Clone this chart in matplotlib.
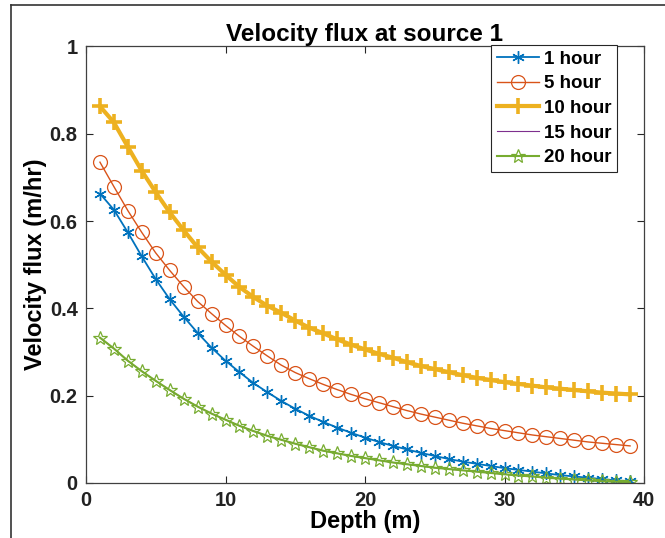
import numpy as np
import matplotlib
matplotlib.use("Agg")
import matplotlib.pyplot as plt
from matplotlib.lines import Line2D

plt.rcParams['font.family'] = ['Liberation Sans', 'DejaVu Sans']
plt.rcParams['font.weight'] = 'bold'

# depth points (m)
depth = list(range(1, 40))

# velocity flux (m/hr)
flux_1h = [0.663, 0.626, 0.574, 0.519, 0.467, 0.421, 0.381, 0.344, 0.310, 0.280,
           0.254, 0.229, 0.208, 0.188, 0.170, 0.154, 0.140, 0.127, 0.115, 0.104,
           0.094, 0.085, 0.077, 0.069, 0.062, 0.055, 0.049, 0.044, 0.039, 0.034,
           0.030, 0.026, 0.022, 0.018, 0.015, 0.012, 0.009, 0.006, 0.004]
flux_5h = [0.735, 0.679, 0.624, 0.574, 0.527, 0.487, 0.450, 0.416, 0.388, 0.361,
           0.336, 0.313, 0.291, 0.270, 0.253, 0.239, 0.226, 0.214, 0.203, 0.193,
           0.184, 0.175, 0.166, 0.158, 0.151, 0.144, 0.137, 0.131, 0.125, 0.120,
           0.115, 0.110, 0.106, 0.102, 0.098, 0.094, 0.091, 0.088, 0.085]
flux_10h = [0.863, 0.826, 0.770, 0.715, 0.666, 0.620, 0.579, 0.540, 0.507, 0.477,
            0.449, 0.426, 0.406, 0.390, 0.372, 0.356, 0.343, 0.329, 0.317, 0.306,
            0.296, 0.287, 0.277, 0.268, 0.261, 0.254, 0.247, 0.241, 0.236, 0.231,
            0.227, 0.223, 0.219, 0.216, 0.213, 0.210, 0.207, 0.205, 0.203]
flux_15h = [0.333, 0.308, 0.280, 0.256, 0.234, 0.213, 0.193, 0.175, 0.159, 0.145,
            0.131, 0.119, 0.108, 0.099, 0.090, 0.082, 0.074, 0.068, 0.062, 0.057,
            0.052, 0.047, 0.043, 0.039, 0.035, 0.032, 0.029, 0.026, 0.023, 0.020,
            0.017, 0.015, 0.012, 0.010, 0.008, 0.006, 0.004, 0.003, 0.002]
flux_20h = [0.333, 0.308, 0.280, 0.256, 0.234, 0.213, 0.193, 0.175, 0.159, 0.145,
            0.131, 0.119, 0.108, 0.099, 0.090, 0.082, 0.074, 0.068, 0.062, 0.057,
            0.052, 0.047, 0.043, 0.039, 0.035, 0.032, 0.029, 0.026, 0.023, 0.020,
            0.017, 0.015, 0.012, 0.010, 0.008, 0.006, 0.004, 0.003, 0.002]

labels = ['1 hour', '5 hour', '10 hour', '15 hour', '20 hour']
x_ticks = [0, 10, 20, 30, 40]
y_ticks = [0, 0.2, 0.4, 0.6, 0.8, 1]
y_tick_labels = ['0', '0.2', '0.4', '0.6', '0.8', '1']

W, H = 665, 538
fig = plt.figure(figsize=(W / 100, H / 100), dpi=100)
ax = fig.add_axes([86 / W, 55 / H, 558 / W, 436.5 / H])

# matlab default colours
ax.plot(depth, flux_1h, color='#0072BD', lw=1.3, marker=(6, 2, 0), ms=9, mew=1.0,
        label=labels[0])
ax.plot(depth, flux_5h, color='#D95319', lw=1.0, marker='o', ms=10, mfc='none',
        mew=0.9, label=labels[1])
ax.plot(depth, flux_10h, color='#EDB120', lw=3.0, marker='+', ms=12, mew=2.6,
        label=labels[2])
ax.plot(depth, flux_15h, color='#7E2F8E', lw=0.8, label=labels[3])
ax.plot(depth, flux_20h, color='#77AC30', lw=1.5, marker='*', ms=10, mfc='none',
        mew=0.9, label=labels[4])

ax.set_xlim(0, 40)
ax.set_ylim(0, 1)
ax.set_xticks(x_ticks)
ax.set_xticklabels([str(t) for t in x_ticks])
ax.set_yticks(y_ticks)
ax.set_yticklabels(y_tick_labels)
ax.tick_params(direction='in', length=5, width=0.8, top=True, right=True,
               labelsize=14.5, colors='#262626', labelcolor='#222222', pad=6)
for s in ax.spines.values():
    s.set_color('#404040')
    s.set_linewidth(0.9)

ax.set_title('Velocity flux at source 1', fontsize=17.5, fontweight='bold', pad=4)
ax.set_xlabel('Depth (m)', fontsize=17, fontweight='bold', labelpad=0)
ax.set_ylabel('Velocity flux (m/hr)', fontsize=17, fontweight='bold', labelpad=2)

leg = ax.legend(loc='upper right', bbox_to_anchor=(617 / W, (H - 45) / H),
                bbox_transform=fig.transFigure, fontsize=13.5, handlelength=2.25,
                handletextpad=0.27, labelspacing=0.4, borderpad=0.3,
                borderaxespad=0, fancybox=False, numpoints=1)
leg.get_frame().set_edgecolor('#262626')
leg.get_frame().set_linewidth(0.8)
leg.get_frame().set_alpha(1)

# frame around the picture (left and top)
fig.add_artist(Line2D([11 / W, 11 / W], [0, (H - 5) / H], color='#333333', lw=1.2))
fig.add_artist(Line2D([11 / W, 1], [(H - 5) / H, (H - 5) / H], color='#333333', lw=1.2))

fig.savefig('out.png', dpi=100)
